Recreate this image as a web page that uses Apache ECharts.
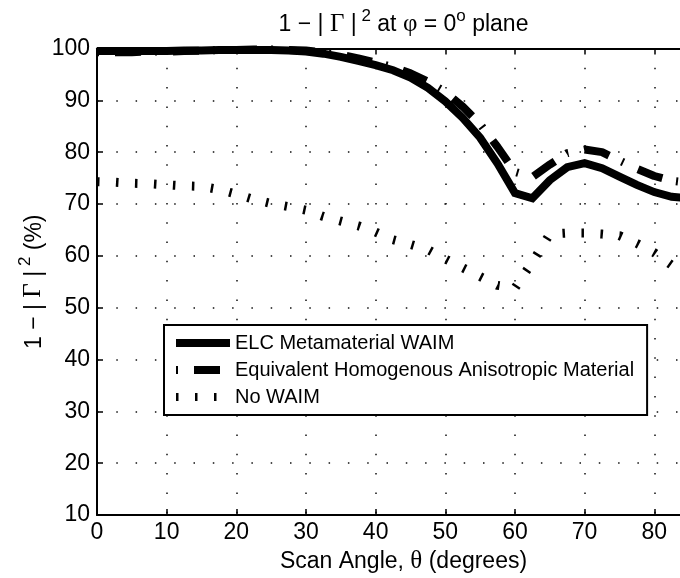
<!DOCTYPE html>
<html><head><meta charset="utf-8">
<script src="https://cdn.jsdelivr.net/npm/echarts@6/dist/echarts.min.js"></script>
<style>html,body{margin:0;padding:0;background:#fff}#c{width:680px;height:578px}</style>
</head><body><div id="c"></div>
<script>
// Scan angle (degrees)
const angles = [0,2.5,5,7.5,10,12.5,15,17.5,20,22.5,25,27.5,30,32.5,35,37.5,40,42.5,45,47.5,50,52.5,55,57.5,60,62.5,65,67.5,70,72.5,75,77.5,80,82.5,85,87.5,90];
// 1-|Gamma|^2 (%)
const elc = [99.5,99.5,99.5,99.5,99.5,99.6,99.6,99.7,99.7,99.7,99.7,99.6,99.4,99.0,98.4,97.6,96.8,95.8,94.4,92.4,89.8,86.6,82.8,77.8,72.1,71.1,74.6,77.1,77.9,76.9,75.3,73.7,72.3,71.4,71.1,71.2,71.5];
const ehm = [99.3,99.3,99.3,99.4,99.4,99.5,99.6,99.7,99.7,99.8,99.8,99.7,99.6,99.3,98.8,98.1,97.3,96.4,95.2,93.6,91.6,88.8,85.4,81.0,76.2,75.2,77.6,79.8,80.5,80.0,78.4,76.8,75.4,74.5,74.1,74.1,74.3];
const noWaim = [74.3,74.2,74.0,73.9,73.7,73.5,73.4,72.8,71.9,70.9,70.1,69.5,68.8,67.6,66.7,65.8,64.6,63.1,62.2,61.2,59.4,57.7,56.0,54.3,53.8,58.8,64.2,64.4,64.4,64.2,63.9,62.4,60.6,58.2,56.2,55.0,54.5];
const seriesNames = ['ELC Metamaterial WAIM','Equivalent Homogenous Anisotropic Material','No WAIM'];
const xTickStep = 10, xMin = 0, xMax = 88;
const yTickStep = 10, yMin = 10, yMax = 100;

const FONT = '"Liberation Sans", Arial, Helvetica, sans-serif';
const SERIF = '"Liberation Serif", "Times New Roman", serif';
const richTitle = {
  n: {fontFamily: FONT, fontSize: 23, lineHeight: 29, verticalAlign: 'bottom', color: '#000'},
  g: {fontFamily: SERIF, fontSize: 25, lineHeight: 29, verticalAlign: 'bottom', color: '#000'},
  sup: {fontFamily: FONT, fontSize: 17, lineHeight: 17, verticalAlign: 'top', color: '#000'}
};
const richAxis = {
  g: {fontFamily: SERIF, fontSize: 25, color: '#000'}
};
const pair = arr => angles.map((a, i) => [a, arr[i]]);
const dotted = {type: [1.5, 17.8], color: '#111', width: 1.5};

const chart = echarts.init(document.getElementById('c'), null, {renderer: 'canvas'});
chart.setOption({
  animation: false,
  backgroundColor: '#fff',
  textStyle: {fontFamily: FONT},
  grid: {left: 97, top: 48.5, bottom: 63, right: -30, containLabel: false, outerBoundsMode: 'none'},
  xAxis: [{
    type: 'value', min: xMin, max: xMax, interval: xTickStep, position: 'bottom',
    axisLine: {show: true, onZero: false, lineStyle: {color: '#000', width: 2}},
    axisTick: {show: true, inside: true, length: 6, lineStyle: {color: '#000', width: 1.5}},
    axisLabel: {fontSize: 23, color: '#000', margin: 6, fontFamily: FONT, showMaxLabel: false},
    splitLine: {show: true, lineStyle: dotted},
    name: 'Scan Angle, {g|θ} (degrees)', nameLocation: 'middle', nameGap: 34, nameMoveOverlap: false,
    nameTextStyle: {fontSize: 23, color: '#000', fontFamily: FONT, rich: richAxis}
  }, {
    type: 'value', min: xMin, max: xMax, interval: xTickStep, position: 'top',
    axisLine: {show: true, onZero: false, lineStyle: {color: '#000', width: 2}},
    axisTick: {show: true, inside: true, length: 6, lineStyle: {color: '#000', width: 1.5}},
    axisLabel: {show: false}, splitLine: {show: false},
    name: '{n|1 − | }{g|Γ}{n| |}{sup| 2}{n| at }{g|φ}{n| = 0}{sup|o}{n| plane}', nameLocation: 'middle', nameGap: 12, nameMoveOverlap: false,
    nameTextStyle: {fontSize: 23, color: '#000', fontFamily: FONT, rich: richTitle}
  }],
  yAxis: [{
    type: 'value', min: yMin, max: yMax, interval: yTickStep,
    axisLine: {show: true, onZero: false, lineStyle: {color: '#000', width: 2}},
    axisTick: {show: true, inside: true, length: 6, lineStyle: {color: '#000', width: 1.5}},
    axisLabel: {fontSize: 23, color: '#000', margin: 7, fontFamily: FONT},
    splitLine: {show: true, lineStyle: dotted},
    name: '{n|1 − | }{g|Γ}{n| |}{sup| 2}{n| (%)}', nameLocation: 'middle', nameRotate: 90, nameGap: 51, nameMoveOverlap: false,
    nameTextStyle: {fontSize: 23, color: '#000', fontFamily: FONT, rich: richTitle}
  }],
  legend: {
    orient: 'vertical', left: 164, top: 325,
    itemWidth: 54, itemHeight: 20, itemGap: 7,
    padding: [8, 13, 8, 8],
    borderColor: '#000', borderWidth: 2, backgroundColor: '#fff',
    selectedMode: false,
    textStyle: {fontSize: 20, color: '#000', fontFamily: FONT},
    lineStyle: {width: 8},
    itemStyle: {opacity: 0, borderWidth: 0},
    data: seriesNames
  },
  series: [
    {name: seriesNames[0], type: 'line', data: pair(elc), showSymbol: false, symbol: 'none',
     lineStyle: {color: '#000', width: 8, type: 'solid', cap: 'butt', join: 'miter'}, itemStyle: {color: '#000'}, z: 3},
    {name: seriesNames[1], type: 'line', data: pair(ehm), showSymbol: false, symbol: 'none',
     lineStyle: {color: '#000', width: 8, type: [2, 16, 26, 14], cap: 'butt'}, itemStyle: {color: '#000'}, z: 4},
    {name: seriesNames[2], type: 'line', data: pair(noWaim), showSymbol: false, symbol: 'none',
     lineStyle: {color: '#000', width: 9, type: [2.5, 16.5], cap: 'butt'}, itemStyle: {color: '#000'}, z: 5}
  ]
});
</script>
</body></html>
